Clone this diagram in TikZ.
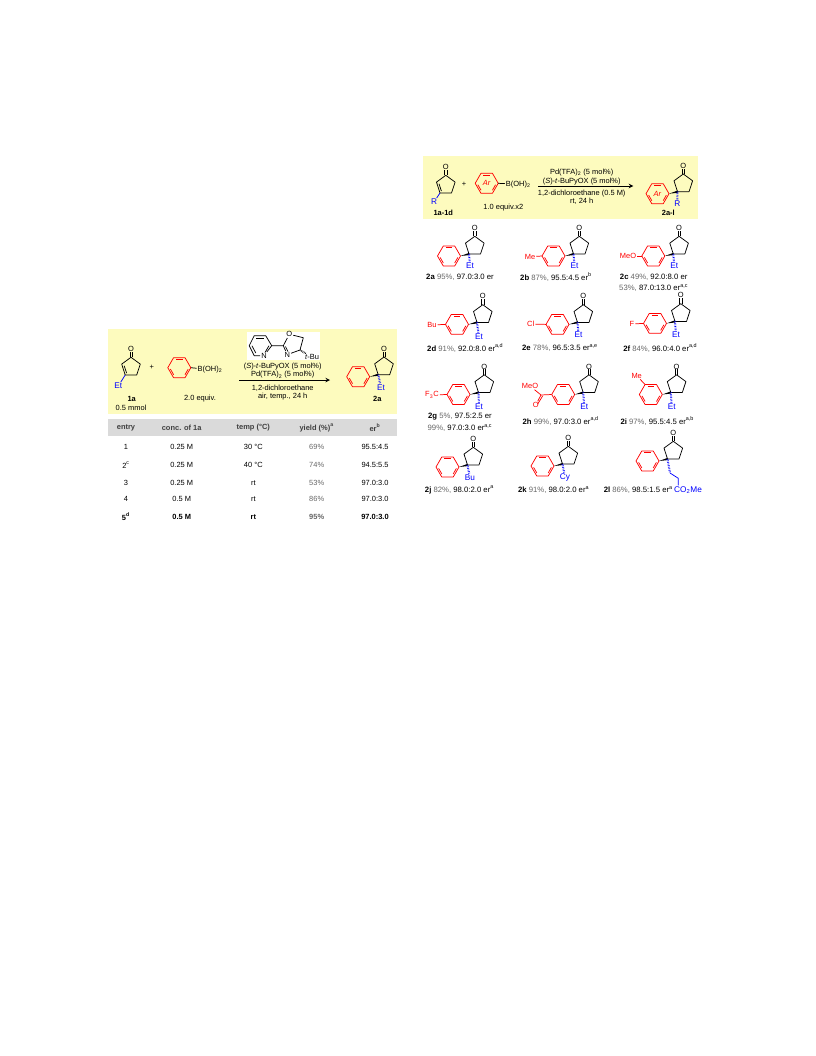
\documentclass[tikz,border=0pt]{standalone}
\usepackage{fontspec}
\setmainfont{Liberation Sans}
\definecolor{boxyellow}{HTML}{FDFBBE}
\definecolor{bandgray}{HTML}{DADADA}
\newcommand{\yld}[1]{\textcolor{black!60}{#1}}
\tikzset{
    every node/.style={font=\fontsize{5.6}{6}\selectfont,inner sep=.6pt},
    bond/.style={line width=.55pt,line join=round},
    redbond/.style={bond,red},
    bluebond/.style={bond,blue},
    hashbond/.style={blue,line width=1.5pt,dash pattern=on .45pt off .75pt},
    redtext/.style={text=red},
    subst/.style={text=blue,font=\fontsize{6.2}{7}\selectfont},
    reslabel/.style={font=\fontsize{5.8}{7}\selectfont},
    %% Red benzene ring, pointy at left and right
    arene/.pic={
        \draw[redbond] (0:11.5) -- (60:11.5) -- (120:11.5) -- (180:11.5)
            -- (240:11.5) -- (300:11.5) -- cycle;
        \foreach \a in {0,120,240}
            \draw[redbond] (\a+9:9) -- (\a+51:9);
    },
    %% Cyclopentanone, the origin is the lower left carbon
    ketone/.pic={
        \draw[bond] (0,0) -- (11.5,0) -- (15.1,-10.9) -- (5.8,-17.7)
            -- (-3.5,-10.9) -- cycle;
        \node (-O) at (5.8,-26) {O};
        \draw[bond] (4.7,-17.7) -- (4.7,-23.2);
        \draw[bond] (6.9,-17.7) -- (6.9,-23.2);
        \coordinate (-q) at (0,0);
    },
    %% Ring with its double bond: the starting enones
    enone/.pic={
        \pic (-k) at (0,0) {ketone};
        \draw[bond] (1.4,-1.9) -- (-1,-9.2);
        \coordinate (-q) at (0,0);
    },
    %% Ketone with the aryl group on a bold wedge
    product/.pic={
        \pic at (0,0) {ketone};
        \pic at (-20,2) {arene};
        \fill (-8.5,2) -- (0,-1.1) -- (0,1.1) -- cycle;
        \coordinate (-q) at (0,0);
        \coordinate (-para) at (-31.5,2);
        \coordinate (-meta) at (-25.75,-8);
    },
}
\begin{document}
\begin{tikzpicture}[x=.75pt,y=-.75pt]
    \useasboundingbox (0,0) rectangle (816,1056);
    %% Yellow boxes and table header
    \fill[boxyellow] (107.7,329) rectangle (396.7,414.3);
    \fill[boxyellow] (423,155.7) rectangle (698,219);
    \fill[bandgray] (107.7,419) rectangle (396.7,436);

    %% Left scheme
    \pic (sm) at (125.2,375) {enone};
    \node[subst] (smEt) at (118.3,386) {Et};
    \draw[bluebond] (sm-q) -- (smEt);
    \node (sm1a) at (131.7,399) {\textbf{1a}};
    \node (smAmt) at (131,408.3) {0.5 mmol};
    \node (plusL) at (151.7,367.7) {+};
    \pic at (179.3,367.7) {arene};
    \coordinate (arL) at (190.8,367.7);
    \node (boronL) at (210,369.5) {B(OH)\textsubscript{2}};
    \draw[bond] (arL) -- (boronL);
    \node (eqL) at (200,399) {2.0 equiv.};
    %% PyOX ligand
    \fill[white] (246.7,332.3) rectangle (320,360);
    \node (pyN) at (264,355.6) {N};
    \node (oxN) at (287.3,354.6) {N};
    \node (oxO) at (289.3,334.3) {O};
    \node (tBu) at (312,357.3) {\textit{t}-Bu};
    \coordinate (py1) at (249.2,345.7);
    \coordinate (py2) at (254.2,335.7);
    \coordinate (py3) at (265.7,335.7);
    \coordinate (py4) at (271.7,345.7);
    \coordinate (py6) at (254.2,355.7);
    \coordinate (ox2) at (283.3,345.7);
    \coordinate (ox4) at (300,350);
    \coordinate (ox5) at (303.3,337.7);
    \draw[bond] (pyN) -- (py6) -- (py1) -- (py2) -- (py3) -- (py4) -- (pyN);
    \draw[bond] (255.8,353) -- (251.9,345.7);
    \draw[bond] (256,338) -- (264,338);
    \draw[bond] (269,345.7) -- (265,352.5);
    \draw[bond] (py4) -- (ox2) -- (oxO) -- (ox5) -- (ox4) -- (oxN) -- (ox2);
    \draw[bond] (285.5,346.6) -- (288,351.6);
    \draw[line width=1.3pt,dash pattern=on .45pt off .7pt] (ox4) -- (tBu);
    %% Conditions
    \node (condA) at (282.7,366.7) {(\textit{S})-\textit{t}-BuPyOX (5 mol\%)};
    \node (condB) at (282.7,375) {Pd(TFA)\textsubscript{2} (5 mol\%)};
    \node (condC) at (282.7,388.3) {1,2-dichloroethane};
    \node (condD) at (282.7,396.7) {air, temp., 24 h};
    \coordinate (arrLs) at (239.3,380);
    \coordinate (arrLe) at (330,380);
    \draw[bond,-stealth] (arrLs) -- (arrLe);
    %% Product
    \pic (pr) at (378.2,374.7) {product};
    \node[subst] (prEt) at (381,387.3) {Et};
    \draw[hashbond] (pr-q) -- (prEt);
    \node (pr2a) at (377.3,399) {\textbf{2a}};

    %% Table
    \node[text=black!75] (hEntry) at (126,427.7) {\textbf{entry}};
    \node[text=black!75] (hConc) at (181.7,427.7) {\textbf{conc. of 1a}};
    \node[text=black!75] (hTemp) at (253.3,427.7) {\textbf{temp (°C)}};
    \node[text=black!75] (hYield) at (316.7,427.7) {\textbf{yield (\%)\textsuperscript{a}}};
    \node[text=black!75] (hEr) at (375,427.7) {\textbf{er\textsuperscript{b}}};
    \foreach \n/\y/\e/\c/\t/\p/\r in {1/446.7/1/0.25 M/30 °C/69\%/95.5:4.5,
        2/465/2\textsuperscript{c}/0.25 M/40 °C/74\%/94.5:5.5,
        3/482.7/3/0.25 M/rt/53\%/97.0:3.0,
        4/499.3/4/0.5 M/rt/86\%/97.0:3.0}{
        \node (e\n) at (126,\y) {\e};
        \node (c\n) at (181.7,\y) {\c};
        \node (t\n) at (253.3,\y) {\t};
        \node (y\n) at (316.7,\y) {\yld{\p}};
        \node (r\n) at (375,\y) {\r};
    }
    \node (e5) at (126,516.7) {\textbf{5\textsuperscript{d}}};
    \node (c5) at (181.7,516.7) {\textbf{0.5 M}};
    \node (t5) at (253.3,516.7) {\textbf{rt}};
    \node (y5) at (316.7,516.7) {\textbf{\yld{95\%}}};
    \node (r5) at (375,516.7) {\textbf{97.0:3.0}};

    %% Right scheme
    \pic (sm2) at (440,193) {enone};
    \node[subst] (smR) at (434,202) {R};
    \draw[bluebond] (sm2-q) -- (smR);
    \node (sm1d) at (443.3,213.3) {\textbf{1a-1d}};
    \node (plusR) at (464,184.3) {+};
    \pic at (486.7,183.3) {arene};
    \node[redtext] (arA) at (486.7,183.3) {\textit{Ar}};
    \coordinate (arR) at (498.2,183.3);
    \node (boronR) at (518.3,184.3) {B(OH)\textsubscript{2}};
    \draw[bond] (arR) -- (boronR);
    \node (eqR) at (503.3,207.3) {1.0 equiv.x2};
    \node (condE) at (581.7,172.7) {Pd(TFA)\textsubscript{2} (5 mol\%)};
    \node (condF) at (581.7,181.7) {(\textit{S})-\textit{t}-BuPyOX (5 mol\%)};
    \node (condG) at (581.7,194) {1,2-dichloroethane (0.5 M)};
    \node (condH) at (581.7,201.7) {rt, 24 h};
    \coordinate (arrRs) at (538.3,186);
    \coordinate (arrRe) at (633.3,186);
    \draw[bond,-stealth] (arrRs) -- (arrRe);
    \pic (prR) at (677.5,191.7) {product};
    \node[redtext] (arB) at (657.5,193.7) {\textit{Ar}};
    \node[subst] (prRR) at (677.3,204) {R};
    \draw[hashbond] (prR-q) -- (prRR);
    \node (pr2l) at (668.3,213.3) {\textbf{2a-l}};

    %% Products, first row
    \pic (a) at (469,254) {product};
    \node[subst] (aEt) at (470,266) {Et};
    \draw[hashbond] (a-q) -- (aEt);
    \node[reslabel] (aLab) at (460,277) {\textbf{2a} \yld{95\%,} 97.0:3.0 er};

    \pic (b) at (573.5,254) {product};
    \node[subst] (bEt) at (574.5,266) {Et};
    \draw[hashbond] (b-q) -- (bEt);
    \node[redtext] (bMe) at (530,256.7) {Me};
    \draw[redbond] (b-para) -- (bMe);
    \node[reslabel] (bLab) at (556,277) {\textbf{2b} \yld{87\%,} 95.5:4.5 er\textsuperscript{b}};

    \pic (c) at (673.3,254) {product};
    \node[subst] (cEt) at (674.3,266) {Et};
    \draw[hashbond] (c-q) -- (cEt);
    \node[redtext] (cMeO) at (628,256) {MeO};
    \draw[redbond] (c-para) -- (cMeO);
    \node[reslabel] (cLab) at (653.7,277) {\textbf{2c} \yld{49\%,} 92.0:8.0 er};
    \node[reslabel] (cLabB) at (653.7,288) {\yld{53\%,} 87.0:13.0 er\textsuperscript{a,c}};

    %% Second row
    \pic (d) at (477,322.4) {product};
    \node[subst] (dEt) at (479,337) {Et};
    \draw[hashbond] (d-q) -- (dEt);
    \node[redtext] (dBu) at (432,325) {Bu};
    \draw[redbond] (d-para) -- (dBu);
    \node[reslabel] (dLab) at (465.3,348) {\textbf{2d} \yld{91\%,} 92.0:8.0 er\textsuperscript{a,d}};

    \pic (e) at (577.5,322.4) {product};
    \node[subst] (eEt) at (578.5,335) {Et};
    \draw[hashbond] (e-q) -- (eEt);
    \node[redtext] (eCl) at (530.7,324) {Cl};
    \draw[redbond] (e-para) -- (eCl);
    \node[reslabel] (eLab) at (560,348) {\textbf{2e} \yld{78\%,} 96.5:3.5 er\textsuperscript{a,e}};

    \pic (f) at (675,321.4) {product};
    \node[subst] (fEt) at (676,335) {Et};
    \draw[hashbond] (f-q) -- (fEt);
    \node[redtext] (fF) at (632,324) {F};
    \draw[redbond] (f-para) -- (fF);
    \node[reslabel] (fLab) at (660.3,348) {\textbf{2f} \yld{84\%,} 96.0:4.0 er\textsuperscript{a,d}};

    %% Third row
    \pic (g) at (478.5,392.5) {product};
    \node[subst] (gEt) at (479,406.7) {Et};
    \draw[hashbond] (g-q) -- (gEt);
    \node[redtext] (gCF) at (432,395) {F\textsubscript{3}C};
    \draw[redbond] (g-para) -- (gCF);
    \node[reslabel] (gLab) at (460,417) {\textbf{2g} \yld{5\%,} 97.5:2.5 er};
    \node[reslabel] (gLabB) at (460,428) {\yld{99\%,} 97.0:3.0 er\textsuperscript{a,c}};

    \pic (h) at (583.2,392.5) {product};
    \node[subst] (hEt) at (584.2,406.7) {Et};
    \draw[hashbond] (h-q) -- (hEt);
    \coordinate (hC) at (541,395);
    \node[redtext] (hOMe) at (530,386) {MeO};
    \node[redtext] (hO) at (535.7,405) {O};
    \draw[redbond] (h-para) -- (hC) -- (hOMe);
    \draw[redbond] (hC) -- (hO);
    \draw[redbond] (542.6,396) -- (537.6,404.2);
    \node[reslabel] (hLab) at (560.7,421) {\textbf{2h} \yld{99\%,} 97.0:3.0 er\textsuperscript{a,d}};

    \pic (i) at (670.8,392.5) {product};
    \node[subst] (iEt) at (671.7,406.7) {Et};
    \draw[hashbond] (i-q) -- (iEt);
    \node[redtext] (iMe) at (636.7,375.7) {Me};
    \draw[redbond] (i-meta) -- (iMe);
    \node[reslabel] (iLab) at (657.3,421) {\textbf{2i} \yld{97\%,} 95.5:4.5 er\textsuperscript{a,b}};

    %% Last row
    \pic (j) at (467.5,465) {product};
    \node[subst] (jBu) at (470,478) {Bu};
    \draw[hashbond] (j-q) -- (jBu);
    \node[reslabel] (jLab) at (459.5,490) {\textbf{2j} \yld{82\%,} 98.0:2.0 er\textsuperscript{a}};

    \pic (k) at (562.5,464) {product};
    \node[subst] (kCy) at (565,477.3) {Cy};
    \draw[hashbond] (k-q) -- (kCy);
    \node[reslabel] (kLab) at (553.7,490) {\textbf{2k} \yld{91\%,} 98.0:2.0 er\textsuperscript{a}};

    \pic (l) at (667.5,459) {product};
    \coordinate (lA) at (670,473);
    \coordinate (lB) at (678.3,478.3);
    \node[subst] (lCO) at (688,490) {CO\textsubscript{2}Me};
    \draw[hashbond] (l-q) -- (lA);
    \draw[bluebond] (lA) -- (lB) -- (lB |- lCO.north);
    \node[reslabel] (lLab) at (638.3,490) {\textbf{2l} \yld{86\%,} 98.5:1.5 er\textsuperscript{a}};
\end{tikzpicture}
\end{document}
